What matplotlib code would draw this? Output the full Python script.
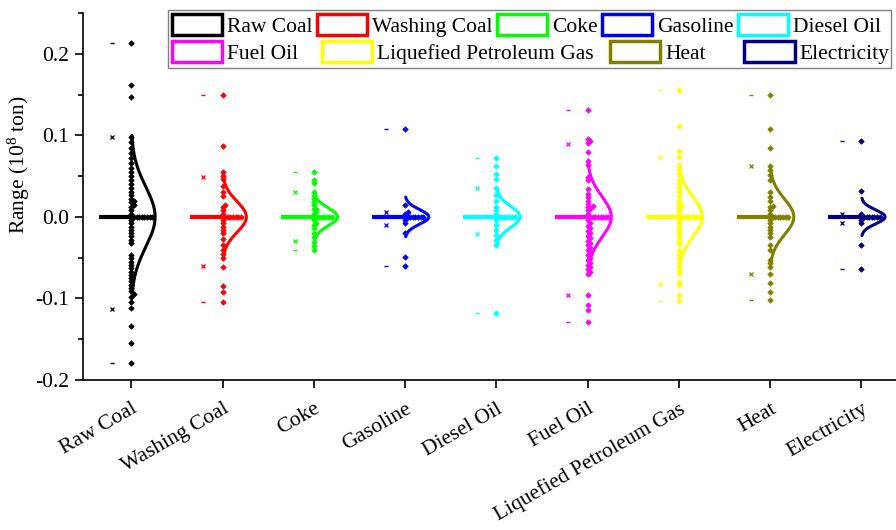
import numpy as np
import matplotlib
matplotlib.use('Agg')
import matplotlib.pyplot as plt
from matplotlib.patches import Rectangle, Patch
from matplotlib.ticker import MultipleLocator, FormatStrFormatter
from matplotlib.transforms import ScaledTranslation

plt.rcParams['font.family'] = ['Liberation Serif', 'DejaVu Serif']
plt.rcParams['axes.unicode_minus'] = False
plt.rcParams['mathtext.fontset'] = 'custom'
plt.rcParams['mathtext.rm'] = 'Liberation Serif'
plt.rcParams['mathtext.it'] = 'Liberation Serif:italic'

categories = ['Raw Coal', 'Washing Coal', 'Coke', 'Gasoline', 'Diesel Oil',
              'Fuel Oil', 'Liquefied Petroleum Gas', 'Heat', 'Electricity']
colors = ['#000000', '#FF0000', '#00FF00', '#0000FF', '#00FFFF',
          '#FF00FF', '#FFFF00', '#808000', '#000080']

raw_coal = [0.213, 0.162, 0.147, 0.098, 0.092, 0.085, 0.078, 0.072, 0.066, 0.060,
            0.055, 0.050, 0.045, 0.040, 0.036, 0.031, 0.027, 0.022, 0.020, 0.018,
            0.015, 0.012, 0.008, 0.004, 0, 0, 0, 0, 0, 0, 0, 0, 0,
            -0.004, -0.008, -0.012, -0.016, -0.020, -0.024, -0.028, -0.032,
            -0.047, -0.051, -0.055, -0.059, -0.063, -0.067, -0.071, -0.075,
            -0.079, -0.083, -0.087, -0.091, -0.095, -0.098, -0.104, -0.112,
            -0.134, -0.155, -0.179]
washing_coal = [0.149, 0.0875, 0.055, 0.050, 0.046, 0.038, 0.030, 0.026, 0.015,
                0.012, 0.008, 0.004, 0, 0, 0, 0, 0, 0, 0, 0,
                -0.004, -0.008, -0.012, -0.016, -0.020, -0.027, -0.034, -0.040,
                -0.046, -0.050, -0.061, -0.085, -0.092, -0.104]
coke = [0.055, 0.045, 0.041, 0.030, 0.026, 0.022, 0.018, 0.014, 0.010, 0.010,
        0.006, 0.004, 0, 0, 0, 0, 0, 0, 0, 0,
        -0.004, -0.008, -0.010, -0.014, -0.020, -0.025, -0.031, -0.036, -0.041]
gasoline = [0.108, 0.014, 0.006, 0.004, 0, 0, 0, 0, 0, 0, 0, 0,
            -0.004, -0.008, -0.020, -0.049, -0.0605]
diesel_oil = [0.072, 0.062, 0.053, 0.046, 0.035, 0.027, 0.020, 0.012, 0.008,
              0.004, 0, 0, 0, 0, 0, 0, 0, 0,
              -0.004, -0.010, -0.016, -0.022, -0.028, -0.034, -0.118]
fuel_oil = [0.1315, 0.0957, 0.0927, 0.090, 0.079, 0.069, 0.064, 0.049, 0.045,
            0.0345, 0.028, 0.024, 0.020, 0.016, 0.013, 0.012, 0.010, 0.008,
            0.004, 0, 0, 0, 0, 0, 0, 0, 0, 0,
            -0.004, -0.008, -0.011, -0.014, -0.017, -0.020, -0.023, -0.026,
            -0.029, -0.032, -0.035, -0.038, -0.041, -0.044, -0.047, -0.050,
            -0.053, -0.056, -0.059, -0.061, -0.064, -0.0675, -0.070,
            -0.096, -0.108, -0.114, -0.1287]
lpg = [0.155, 0.111, 0.081, 0.074, 0.063, 0.058, 0.052, 0.045, 0.040, 0.035,
       0.030, 0.026, 0.020, 0.016, 0.013, 0.012, 0.008, 0.004,
       0, 0, 0, 0, 0, 0, 0, 0, 0,
       -0.004, -0.008, -0.012, -0.016, -0.020, -0.025, -0.029, -0.033,
       -0.041, -0.045, -0.050, -0.055, -0.060, -0.065, -0.069, -0.080,
       -0.084, -0.096, -0.103]
heat = [0.150, 0.108, 0.085, 0.063, 0.057, 0.051, 0.045, 0.030, 0.024, 0.020,
        0.013, 0.012, 0.008, 0.004, 0, 0, 0, 0, 0, 0, 0, 0,
        -0.004, -0.008, -0.012, -0.016, -0.020, -0.025, -0.035, -0.040,
        -0.053, -0.057, -0.061, -0.0695, -0.081, -0.092, -0.1013]
electricity = [0.0936, 0.0316, 0.004, 0, 0, 0, 0, 0, 0, 0, 0,
               -0.004, -0.008, -0.035, -0.0634]

series = [raw_coal, washing_coal, coke, gasoline, diesel_oil,
          fuel_oil, lpg, heat, electricity]

p99 = [0.098, 0.049, 0.030, 0.006, 0.035, 0.0895, 0.074, 0.063, 0.004]
p1 = [-0.113, -0.060, -0.029, -0.0104, -0.021, -0.096, -0.0817, -0.070, -0.008]
box_q1 = [0, 0, 0, 0, 0, 0, 0, 0, 0]
box_q3 = [0, 0, 0, 0, 0, 0, 0, 0, 0]
sigma = [0.037, 0.019, 0.011, 0.009, 0.013, 0.025, 0.024, 0.022, 0.0085]

FS = 15.5
W, H = 896, 530
fig = plt.figure(figsize=(W / 100, H / 100), dpi=100)
ax_l, ax_r, ax_t, ax_b = 83, 896, 13, 380
ax = fig.add_axes([ax_l / W, 1 - ax_b / H, (ax_r - ax_l) / W, (ax_b - ax_t) / H])
xlim = (0.47, 9.38)
ylim = (-0.2, 0.25)
ax.set_xlim(*xlim)
ax.set_ylim(*ylim)
xpu = (ax_r - ax_l) / (xlim[1] - xlim[0])
ypu = (ax_b - ax_t) / (ylim[1] - ylim[0])


def swarm(vals, d=2.6):
    vals = np.asarray(vals, float)
    order = np.argsort(vals, kind='stable')
    placed = []
    offs = np.zeros(len(vals))
    for i in order:
        y = vals[i] * ypu
        k = 0
        while True:
            x = k * d
            if all((x - px) ** 2 + (y - py) ** 2 >= d * d * 0.999 for px, py in placed):
                break
            k += 1
        offs[i] = x / xpu
        placed.append((x, y))
    return offs


positions = np.arange(1, len(categories) + 1)
for c, vals, col, hi, lo, q1, q3, s in zip(positions, series, colors, p99, p1,
                                          box_q1, box_q3, sigma):
    vals = np.asarray(vals, float)
    ax.add_patch(Rectangle((c - 0.36, q1), 0.36, q3 - q1, fill=False,
                           edgecolor=col, lw=3, zorder=2))
    ax.plot([c - 0.21, c - 0.21], [hi, lo], 'x', ms=3.5, mew=0.9, color=col,
            linestyle='none', zorder=3)
    ax.plot([c - 0.21, c - 0.21], [vals.max(), vals.min()], '_', ms=3.5, mew=1,
            color=col, linestyle='none', zorder=3)
    ys = np.linspace(-2.7 * s, 2.7 * s, 300)
    xs = c + 0.26 * np.exp(-ys ** 2 / (2 * s ** 2))
    ax.plot(xs, ys, color=col, lw=2.2, zorder=3, solid_capstyle='round')
    offs = swarm(vals)
    ax.plot(c + offs, vals, 'D', ms=2.8, color=col, mec=col, mew=0.5,
            linestyle='none', zorder=4)

ax.spines['top'].set_visible(False)
ax.spines['right'].set_visible(False)
ax.spines['left'].set_linewidth(1.2)
ax.spines['bottom'].set_linewidth(1.2)

ax.set_xticks(positions)
ax.set_xticklabels(categories, rotation=30, ha='right', va='top',
                   rotation_mode='anchor', fontsize=FS)
shift = ScaledTranslation(10 / 100, 0, fig.dpi_scale_trans)
for lab in ax.get_xticklabels():
    lab.set_transform(lab.get_transform() + shift)
ax.yaxis.set_major_locator(MultipleLocator(0.1))
ax.yaxis.set_minor_locator(MultipleLocator(0.05))
ax.yaxis.set_major_formatter(FormatStrFormatter('%.1f'))
ax.tick_params(axis='y', which='major', direction='out', length=6, width=1.2,
               labelsize=FS, pad=4)
ax.tick_params(axis='y', which='minor', direction='out', length=3.5, width=1.2)
ax.tick_params(axis='x', which='major', direction='out', length=6, width=1.2,
               pad=8)
ax.set_ylabel('Range (10$^{8}$ ton)', fontsize=FS)
ax.yaxis.label.set_va('center')
ax.yaxis.set_label_coords((19 - ax_l) / (ax_r - ax_l), (ax_b - 165) / (ax_b - ax_t))

# legend
handles = [Patch(facecolor='white', edgecolor=col, lw=2.5) for col in colors]
fig.add_artist(Rectangle((168 / W, 1 - 68 / H), (891 - 168) / W, 58 / H,
                         transform=fig.transFigure, facecolor='white',
                         edgecolor='#808080', lw=1, zorder=4))
leg_kw = dict(fontsize=FS, handlelength=2.33, handleheight=1.07,
              handletextpad=0.23, borderpad=0, borderaxespad=0, frameon=False,
              loc='center left', bbox_transform=fig.transFigure)
row1 = [0, 1, 2, 3, 4]
l1 = fig.legend([handles[i] for i in row1], [categories[i] for i in row1],
                ncol=5, columnspacing=0.2,
                bbox_to_anchor=(172 / W, 1 - 25.5 / H), **leg_kw)
row2a = [5, 6]
l2 = fig.legend([handles[i] for i in row2a], [categories[i] for i in row2a],
                ncol=2, columnspacing=1.1,
                bbox_to_anchor=(172 / W, 1 - 52.5 / H), **leg_kw)
row2b = [7, 8]
l3 = fig.legend([handles[i] for i in row2b], [categories[i] for i in row2b],
                ncol=2, columnspacing=1.8,
                bbox_to_anchor=(610 / W, 1 - 52.5 / H), **leg_kw)
for lg in (l1, l2, l3):
    lg.set_zorder(5)

fig.savefig('out.png', dpi=100)
